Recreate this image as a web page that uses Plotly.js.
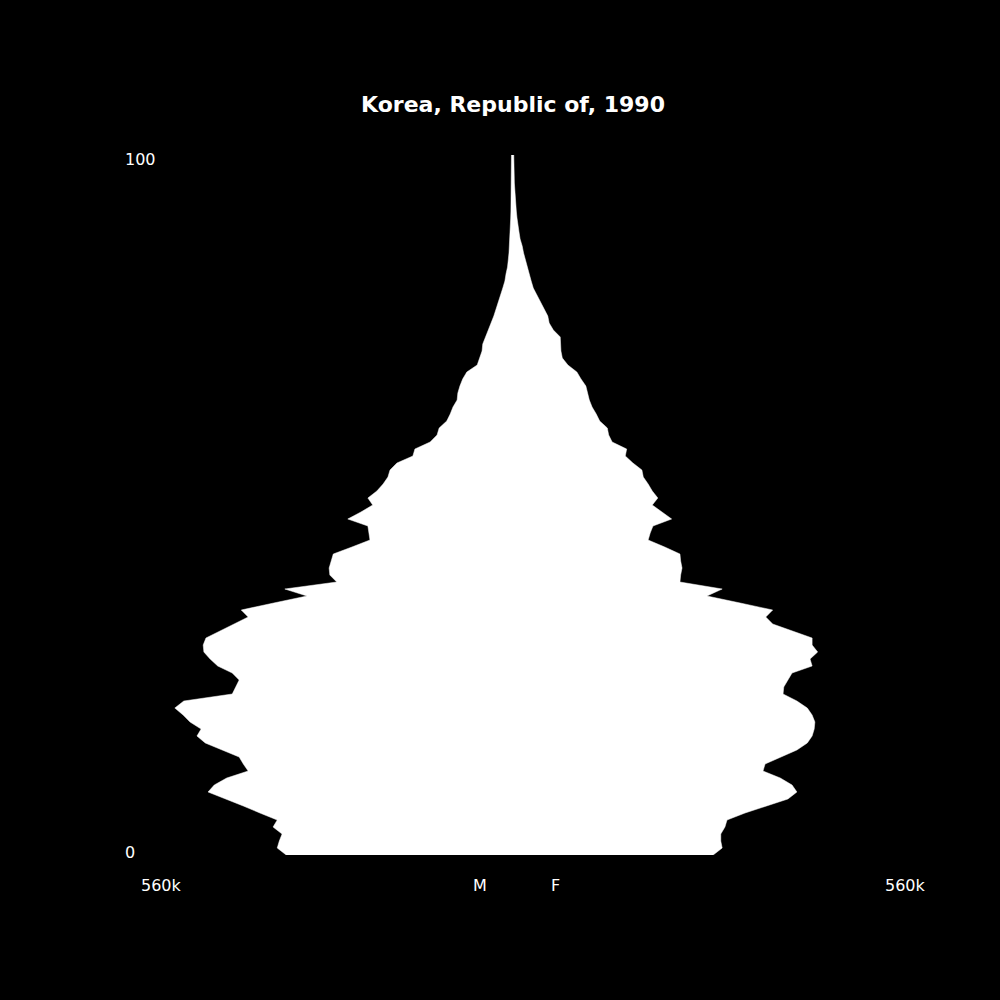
<!DOCTYPE html>
<html>
<head>
<meta charset="utf-8">
<script src="https://cdn.plot.ly/plotly-3.0.1.min.js"></script>
<style>
  html, body { margin: 0; padding: 0; background: #000; }
  #chart { width: 1000px; height: 1000px; }
</style>
</head>
<body>
<div id="chart"></div>
<script>
// population by single year of age, in thousands
const ages = Array.from({ length: 101 }, (_, i) => i);

const male = [
  327, 340, 337, 333, 346, 340, 365, 389, 414, 440,
  431, 413, 382, 389, 395, 420, 444, 456, 450, 466,
  476, 488, 475, 405, 400, 395, 405, 426, 437, 446,
  447, 443, 424, 402, 382, 392, 345, 297, 329, 254,
  264, 265, 262, 259, 232, 206, 207, 209, 238, 219,
  202, 209, 196, 187, 180, 177, 167, 144, 141, 119,
  109, 106, 95, 90, 86, 80, 79, 76, 72, 66,
  51, 47, 44, 43, 40, 35, 31, 27, 24, 21,
  17, 14, 11, 9.4, 7.2, 6.1, 5.1, 4.3, 3.6, 3.2,
  2.9, 2.6, 2.3, 2.1, 1.9, 1.8, 1.7, 1.6, 1.5, 1.5,
  1.5
];

const female = [
  290, 303, 301, 301, 307, 310, 336, 368, 398, 411,
  404, 387, 362, 365, 387, 411, 426, 433, 436, 437,
  433, 426, 411, 391, 392, 398, 404, 433, 430, 441,
  433, 433, 405, 376, 366, 376, 329, 281, 303, 242,
  243, 245, 243, 242, 220, 196, 199, 203, 230, 216,
  202, 210, 202, 196, 189, 187, 174, 163, 165, 144,
  139, 137, 126, 121, 115, 111, 108, 106, 99, 93,
  80, 72, 70, 70, 69, 59, 53, 51, 46, 40,
  35, 30, 27, 24, 21, 18, 16, 14, 11, 9.4,
  7.5, 6.5, 5.5, 4.6, 3.9, 3.2, 2.7, 2.5, 2.2, 2.0,
  1.8
];

const titleText = 'Korea, Republic of, 1990';
const scaleMax = 560;
const scaleLabel = '560k';
const sexLabels = ['M', 'F'];
const ageLabels = ['0', '100'];

const fontFamily = 'DejaVu Sans, sans-serif';

// one closed outline: female side going up, male side coming back down
const outlineX = female.concat(male.slice().reverse().map(v => -v));
const outlineY = ages.concat(ages.slice().reverse());

const data = [
    {
        x: outlineX,
        y: outlineY,
        type: 'scatter',
        mode: 'lines',
        fill: 'toself',
        fillcolor: '#ffffff',
        line: { color: '#ffffff', width: 0.5 },
        hoverinfo: 'skip'
    }
];

const textFont = { family: fontFamily, size: 16, color: '#ffffff' };
const annotation = (text, x, y) => ({
    text: text, x: x, y: y, xref: 'paper', yref: 'paper',
    xanchor: 'center', yanchor: 'middle', showarrow: false, font: textFont
});

const layout = {
    width: 1000,
    height: 1000,
    paper_bgcolor: '#000000',
    plot_bgcolor: '#000000',
    showlegend: false,
    margin: { l: 125, r: 100, t: 155, b: 145 },
    title: {
        text: '<b>' + titleText + '</b>',
        font: { family: fontFamily, size: 22, color: '#ffffff' },
        x: 0.513,
        xanchor: 'center',
        y: 0.896,
        yanchor: 'middle'
    },
    xaxis: {
        range: [-scaleMax, scaleMax],
        showgrid: false, zeroline: false, showticklabels: false, showline: false, ticks: ''
    },
    yaxis: {
        range: [0, 100],
        showgrid: false, zeroline: false, showticklabels: false, showline: false, ticks: ''
    },
    annotations: [
        annotation(ageLabels[1], 0.0206, 0.993),
        annotation(ageLabels[0], 0.0065, 0.003),
        annotation(scaleLabel, 0.0465, -0.043),
        annotation(scaleLabel, 1.0065, -0.043),
        annotation(sexLabels[0], 0.458, -0.043),
        annotation(sexLabels[1], 0.556, -0.043)
    ]
};

Plotly.newPlot('chart', data, layout, { displayModeBar: false, staticPlot: true });
</script>
</body>
</html>
